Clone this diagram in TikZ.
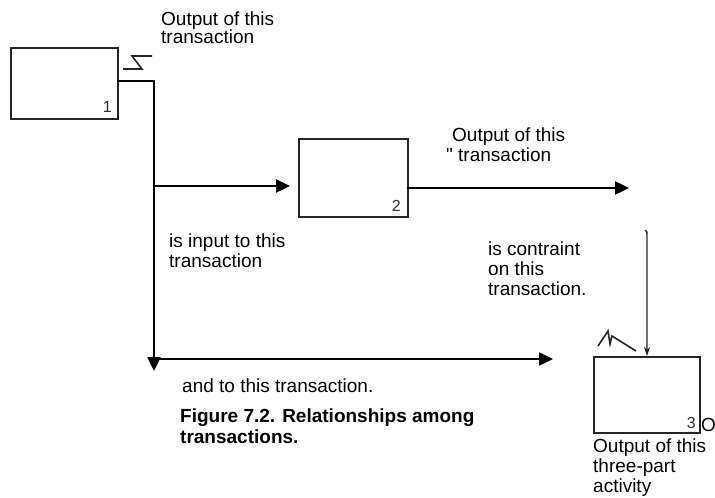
\documentclass[tikz,border=0pt]{standalone}
\usepackage{fontspec}
\setmainfont{Liberation Sans}[Ligatures=TeXOff]
\usetikzlibrary{arrows.meta}
\newcommand{\txtlines}[1]{\begin{tabular}[t]{@{}l@{}}#1\end{tabular}}
\begin{document}
\begin{tikzpicture}[x=1pt,y=-1pt,
  box/.style={draw=black!85, line width=1.8pt, fill=white, anchor=north west, inner sep=0pt},
  num/.style={anchor=base east, inner sep=0pt, font=\fontsize{16}{16}\selectfont, text=black!80},
  lbl/.style={anchor=base west, inner sep=0pt, font=\fontsize{19}{20}\selectfont},
  captxt/.style={lbl, font=\fontsize{19}{21}\selectfont\bfseries},
  main/.style={line width=2.4pt, -{Triangle[length=14pt,width=13pt]}},
  fine/.style={line width=1.4pt, draw=black!85, -{Stealth[length=9pt,width=6pt]}},
  squig/.style={line width=1.6pt, draw=black!85, line join=miter}]
\useasboundingbox (0,0) rectangle (715,498);

% the three transaction boxes
\node[box, minimum width=107pt, minimum height=71pt] (b1) at (10,47) {};
\node[box, minimum width=109pt, minimum height=78pt] (b2) at (298,138) {};
\node[box, minimum width=106pt, minimum height=76pt] (b3) at (593,356) {};
\node[num] (n1) at (112,112) {1};
\node[num] (n2) at (401,211) {2};
\node[num] (n3) at (696,428) {3};
\node[lbl] (oh) at (701,431) {O};

% squiggles marking the labelled arrows
\draw[squig] (123,69) -- (142,69) -- (132,56) -- (152,56);
\draw[squig] (598,346) -- (608,331) -- (610,344) -- (612,336) -- (636,351);

% junction points of the output of transaction 1
\coordinate (o1) at (117,81);
\coordinate (j1) at (154,81);
\coordinate (j2) at (154,186);
\coordinate (j3) at (154,359);
\coordinate (d1) at (154,371);
\coordinate (t2) at (290,186);
\coordinate (t3) at (553,359);
\coordinate (o2) at (407,188);
\coordinate (e2) at (629,188);
\coordinate (c0) at (645,230);
\coordinate (c1) at (647,356);

% output of 1: input to 2 and to 3
\draw[main] (o1) -- (j1) -- (d1);
\draw[main] (j2) -- (t2);
\draw[main] (j3) -- (t3);
% output of 2
\draw[main] (o2) -- (e2);
% constraint on 3
\draw[fine] (c0) .. controls (647,231) .. (647,238) -- (c1);

% labels
\node[lbl] (l1) at (161,25) {\txtlines{Output of this\\[-2pt]transaction}};
\node[lbl] (l2) at (452,141) {Output of this};
\node[lbl] (l2b) at (446,161) {" transaction};
\node[lbl] (l3) at (169,247) {\txtlines{is input to this\\transaction}};
\node[lbl] (l4) at (488,255) {\txtlines{is contraint\\on this\\transaction.}};
\node[lbl] (l5) at (182,392) {and to this transaction.};
\node[captxt] (l6) at (180,422) {\txtlines{Figure 7.2. Relationships among\\transactions.}};
\node[lbl] (l7) at (593,452) {\txtlines{Output of this\\three-part\\activity}};
\end{tikzpicture}
\end{document}
